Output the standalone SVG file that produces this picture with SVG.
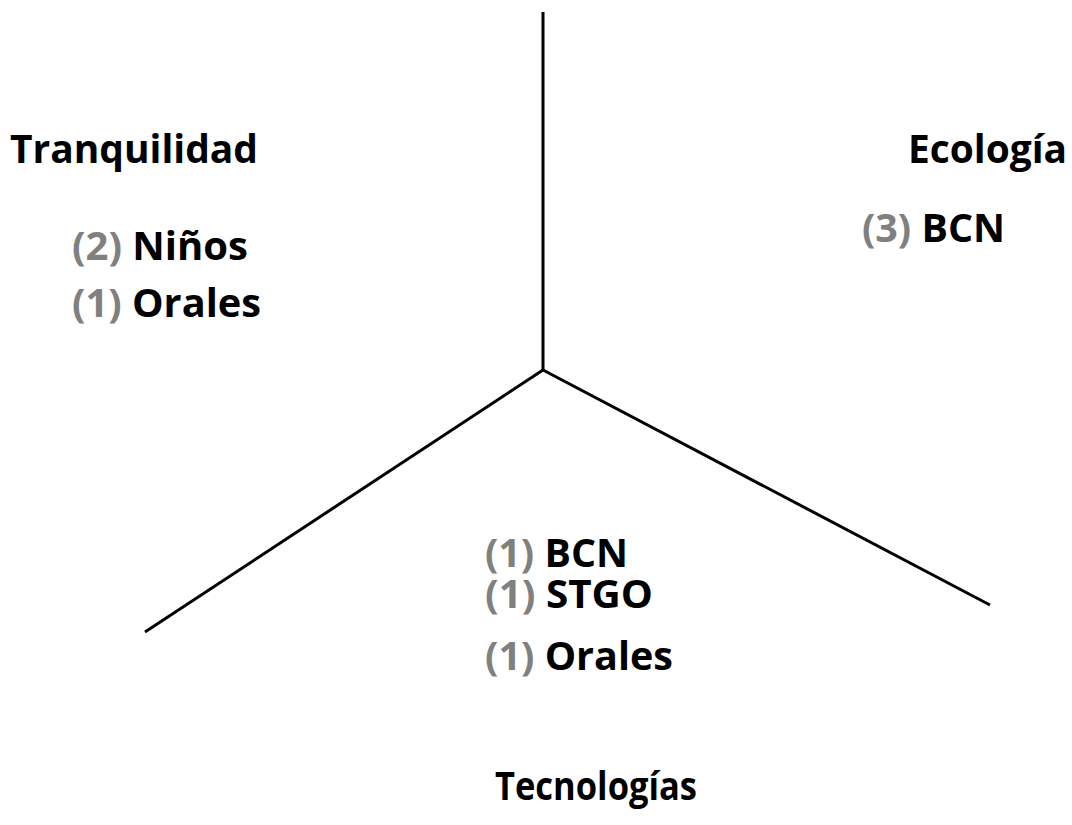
<svg xmlns="http://www.w3.org/2000/svg" width="1072" height="825" viewBox="0 0 1072 825">
<style>
text{font-family:"Open Sans","Liberation Sans",sans-serif;font-weight:bold;font-size:40px;fill:#000}
.n{fill:#808080}
.ln{stroke:#000;stroke-width:3;fill:none;stroke-linecap:butt}
</style>
<rect width="1072" height="825" fill="#fff"/>
<g id="connectors">
<line class="ln" x1="543" y1="12" x2="543" y2="370"/>
<line class="ln" x1="543" y1="370" x2="145" y2="632"/>
<line class="ln" x1="543" y1="370" x2="990" y2="605"/>
</g>
<g id="tranquilidad">
<text x="10" y="163" textLength="248" lengthAdjust="spacingAndGlyphs">Tranquilidad</text>
<text x="72" y="260" textLength="176" lengthAdjust="spacingAndGlyphs"><tspan class="n">(2)</tspan> Niños</text>
<text x="72" y="317" textLength="189" lengthAdjust="spacingAndGlyphs"><tspan class="n">(1)</tspan> Orales</text>
</g>
<g id="ecologia">
<text x="908" y="163" textLength="159" lengthAdjust="spacingAndGlyphs">Ecología</text>
<text x="862" y="242" textLength="143" lengthAdjust="spacingAndGlyphs"><tspan class="n">(3)</tspan> BCN</text>
</g>
<g id="tecnologias">
<text x="485" y="567" textLength="143" lengthAdjust="spacingAndGlyphs"><tspan class="n">(1)</tspan> BCN</text>
<text x="485" y="608" textLength="168" lengthAdjust="spacingAndGlyphs"><tspan class="n">(1)</tspan> STGO</text>
<text x="485" y="670" textLength="188" lengthAdjust="spacingAndGlyphs"><tspan class="n">(1)</tspan> Orales</text>
<text x="495" y="800" textLength="202" lengthAdjust="spacingAndGlyphs">Tecnologías</text>
</g>
</svg>
